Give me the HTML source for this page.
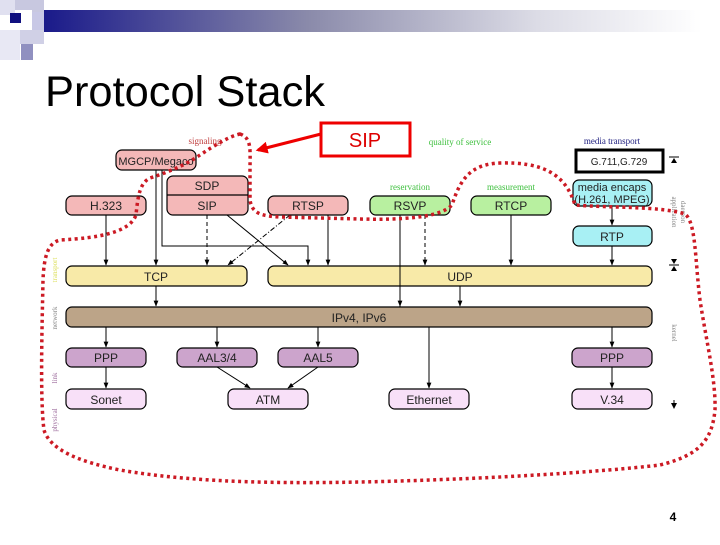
<!DOCTYPE html>
<html><head><meta charset="utf-8"><style>
body{margin:0;width:720px;height:540px;background:#fff;overflow:hidden;font-family:"Liberation Sans",sans-serif}
</style></head><body>
<svg width="720" height="540" viewBox="0 0 720 540" xmlns="http://www.w3.org/2000/svg" font-family="Liberation Sans, sans-serif">
<defs>
<linearGradient id="g" x1="0" x2="1"><stop offset="0" stop-color="#1a1a8a"/><stop offset="0.4" stop-color="#8a8aaa"/><stop offset="0.75" stop-color="#dcdce6"/><stop offset="1" stop-color="#fff"/></linearGradient>
<marker id="a" viewBox="0 0 10 10" refX="9" refY="5" markerWidth="6" markerHeight="6" orient="auto"><path d="M0,1L10,5L0,9z" fill="#000"/></marker>
<marker id="r" viewBox="0 0 10 10" refX="8" refY="5" markerWidth="4" markerHeight="4" orient="auto"><path d="M0,0L10,5L0,10z" fill="#e00"/></marker>
</defs>
<rect x="44" y="10" width="658" height="22" fill="url(#g)"/>
<rect x="0" y="0" width="15" height="15" fill="#e0e0f0"/><rect x="15" y="0" width="17" height="10" fill="#c8c8e0"/>
<rect x="10" y="13" width="11" height="10" fill="#101080"/><rect x="32" y="0" width="12" height="12" fill="#c8c8e0"/>
<rect x="32" y="12" width="12" height="18" fill="#c8c8e6"/><rect x="20" y="30" width="24" height="14" fill="#d0d0e6"/>
<rect x="21" y="44" width="12" height="16" fill="#9090c0"/><rect x="0" y="30" width="20" height="30" fill="#e8e8f4"/>
<text x="45" y="106" font-size="43" fill="#000" textLength="280" lengthAdjust="spacingAndGlyphs">Protocol Stack</text>

<g stroke="#000" stroke-width="1.2" font-size="12" text-anchor="middle">
<rect x="116" y="150" width="80" height="20" rx="6" fill="#f4b8b8"/>
<rect x="167" y="176" width="81" height="39" rx="6" fill="#f4b8b8"/><line x1="167" y1="195" x2="248" y2="195"/>
<rect x="66" y="196" width="80" height="19" rx="6" fill="#f4b8b8"/>
<rect x="268" y="196" width="80" height="19" rx="6" fill="#f4b8b8"/>
<rect x="370" y="196" width="80" height="19" rx="6" fill="#b8f0a0"/>
<rect x="471" y="196" width="80" height="19" rx="6" fill="#b8f0a0"/>
<rect x="573" y="180" width="79" height="26" rx="6" fill="#a8f0f4"/>
<rect x="573" y="226" width="79" height="20" rx="6" fill="#a8f0f4"/>
<rect x="576" y="150" width="87" height="22" fill="#fff" stroke-width="3"/>
<rect x="66" y="266" width="181" height="20" rx="6" fill="#f8eaa8"/>
<rect x="268" y="266" width="384" height="20" rx="6" fill="#f8eaa8"/>
<rect x="66" y="307" width="586" height="20" rx="6" fill="#bca488"/>
<rect x="66" y="348" width="80" height="19" rx="6" fill="#cca4cc"/>
<rect x="177" y="348" width="80" height="19" rx="6" fill="#cca4cc"/>
<rect x="278" y="348" width="80" height="19" rx="6" fill="#cca4cc"/>
<rect x="572" y="348" width="80" height="19" rx="6" fill="#cca4cc"/>
<rect x="66" y="389" width="80" height="20" rx="6" fill="#f8e0f8"/>
<rect x="228" y="389" width="80" height="20" rx="6" fill="#f8e0f8"/>
<rect x="389" y="389" width="80" height="20" rx="6" fill="#f8e0f8"/>
<rect x="572" y="389" width="80" height="20" rx="6" fill="#f8e0f8"/>
</g>
<g font-size="12" text-anchor="middle" fill="#222">
<text x="156" y="165" font-size="11">MGCP/Megaco</text><text x="207" y="190">SDP</text><text x="207" y="210">SIP</text>
<text x="106" y="210">H.323</text><text x="308" y="210">RTSP</text><text x="410" y="210">RSVP</text><text x="511" y="210">RTCP</text>
<text x="612" y="191" font-size="11">media encaps</text><text x="612" y="203" font-size="11">(H.261, MPEG)</text>
<text x="612" y="241">RTP</text><text x="619" y="165" font-size="10">G.711,G.729</text>
<text x="156" y="281">TCP</text><text x="460" y="281">UDP</text><text x="359" y="322">IPv4, IPv6</text>
<text x="106" y="362">PPP</text><text x="217" y="362">AAL3/4</text><text x="318" y="362">AAL5</text><text x="612" y="362">PPP</text>
<text x="106" y="404">Sonet</text><text x="268" y="404">ATM</text><text x="429" y="404">Ethernet</text><text x="612" y="404">V.34</text>
</g>
<g font-family="Liberation Serif, serif" font-size="9" text-anchor="middle">
<text x="205" y="144" fill="#c04040">signaling</text>
<text x="460" y="145" fill="#40c040">quality of service</text>
<text x="410" y="190" fill="#40c040">reservation</text>
<text x="511" y="190" fill="#40c040">measurement</text>
<text x="612" y="144" fill="#202080">media transport</text>
</g>
<g font-family="Liberation Serif, serif" font-size="7" fill="#888">
<text transform="translate(57,270) rotate(-90)" text-anchor="middle" fill="#dde060">transport</text>
<text transform="translate(57,318) rotate(-90)" text-anchor="middle">network</text>
<text transform="translate(57,378) rotate(-90)" text-anchor="middle" fill="#a070a0">link</text>
<text transform="translate(57,420) rotate(-90)" text-anchor="middle" fill="#a070a0">physical</text>
<text transform="translate(672,212) rotate(90)" text-anchor="middle">application</text>
<text transform="translate(681,212) rotate(90)" text-anchor="middle">daemon</text>
<text transform="translate(672,333) rotate(90)" text-anchor="middle">kernel</text>
</g>
<g stroke="#000" stroke-width="1" fill="none">
<line x1="106" y1="215" x2="106" y2="265" marker-end="url(#a)"/>
<line x1="156" y1="170" x2="156" y2="265" marker-end="url(#a)"/>
<polyline points="162,170 162,246 308,246 308,265" marker-end="url(#a)"/>
<line x1="207" y1="215" x2="207" y2="265" stroke-dasharray="4,3" marker-end="url(#a)"/>
<line x1="227" y1="215" x2="288" y2="265" marker-end="url(#a)"/>
<line x1="290" y1="215" x2="228" y2="265" stroke-dasharray="5,2,1,2" marker-end="url(#a)"/>
<line x1="328" y1="215" x2="328" y2="265" marker-end="url(#a)"/>
<line x1="400" y1="215" x2="400" y2="307"/>
<line x1="425" y1="215" x2="425" y2="265" stroke-dasharray="4,3" marker-end="url(#a)"/>
<line x1="511" y1="215" x2="511" y2="265" marker-end="url(#a)"/>
<line x1="612" y1="206" x2="612" y2="225" marker-end="url(#a)"/>
<line x1="612" y1="246" x2="612" y2="265" marker-end="url(#a)"/>
<line x1="156" y1="286" x2="156" y2="306" marker-end="url(#a)"/>
<line x1="400" y1="286" x2="400" y2="306" marker-end="url(#a)"/>
<line x1="460" y1="286" x2="460" y2="306" marker-end="url(#a)"/>
<line x1="106" y1="327" x2="106" y2="347" marker-end="url(#a)"/>
<line x1="217" y1="327" x2="217" y2="347" marker-end="url(#a)"/>
<line x1="318" y1="327" x2="318" y2="347" marker-end="url(#a)"/>
<line x1="429" y1="327" x2="429" y2="388" marker-end="url(#a)"/>
<line x1="612" y1="327" x2="612" y2="347" marker-end="url(#a)"/>
<line x1="106" y1="367" x2="106" y2="388" marker-end="url(#a)"/>
<line x1="612" y1="367" x2="612" y2="388" marker-end="url(#a)"/>
<line x1="217" y1="367" x2="250" y2="388" marker-end="url(#a)"/>
<line x1="318" y1="367" x2="288" y2="388" marker-end="url(#a)"/>
<line x1="669" y1="157" x2="679" y2="157"/><line x1="669" y1="265" x2="679" y2="265"/>
</g>
<g fill="#000"><path d="M674,158l-3,5h6z"/><path d="M674,264l-3,-5h6z"/><path d="M674,266l-3,5h6z"/><path d="M674,409l-3,-6h6z"/><line x1="674" y1="400" x2="674" y2="404" stroke="#000"/></g>

<rect x="321" y="123" width="89" height="33" fill="#fff" stroke="#e00" stroke-width="3"/>
<text x="365" y="147" font-size="20" text-anchor="middle" fill="#d00">SIP</text>
<line x1="321" y1="134" x2="258" y2="150" stroke="#e00" stroke-width="3" marker-end="url(#r)"/>

<path d="M240,134 C252,138 250,150 250,170 L250,200 C252,214 262,216 280,217 L360,219 C400,220 440,218 452,205 C460,180 470,164 500,163 C540,162 565,172 575,205 C610,208 660,206 685,214 C696,222 695,260 700,300 C706,340 716,380 715,410 C712,440 700,455 660,465 C600,472 500,478 400,481 C300,484 200,484 120,470 C80,462 50,450 44,430 C40,400 42,330 43,280 C44,256 48,243 60,240 C100,238 130,232 136,215 C138,195 140,183 150,178 C175,170 190,162 200,155 C215,145 230,136 240,134 Z" fill="none" stroke="#cc1a24" stroke-width="3.5" stroke-dasharray="3,3.5"/>
<text x="673" y="521" font-size="12" font-weight="bold" text-anchor="middle">4</text>
</svg>
</body></html>
